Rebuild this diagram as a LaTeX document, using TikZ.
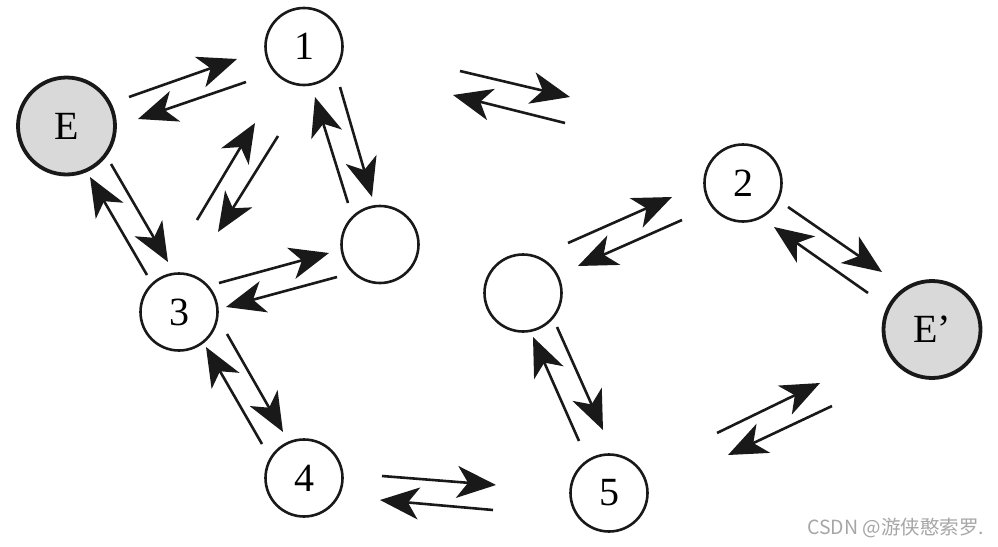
\documentclass[tikz,border=0pt]{standalone}
\usepackage{fontspec}
\setmainfont{Liberation Serif}
\newfontfamily\cjkfont{Noto Sans CJK SC}
\usetikzlibrary{arrows.meta}
\begin{document}
\begin{tikzpicture}[x=1pt,y=-1pt,
  st/.style={circle,draw=black!90,line width=2.6pt,minimum size=77pt,inner sep=0pt,
    font=\fontsize{40}{40}\selectfont},
  term/.style={st,line width=3.8pt,fill=black!15,minimum size=97pt},
  arr/.style={draw=black!90,line width=2.6pt,-{Stealth[length=39pt,width=32pt,inset=11pt]}},
  wm/.style={font=\cjkfont\fontsize{19.5}{20}\selectfont,text=black!35,inner sep=0pt}]
\useasboundingbox (0,0) rectangle (998,546);

% nodes
\node[term] (E)  at (66.5,126) {E};
\node[st]   (n1) at (304,46.5) {1};
\node[st]   (A)  at (380,244.5) {};
\node[st]   (n3) at (179,312) {3};
\node[st]   (n4) at (304,478) {4};
\node[st]   (n2) at (743,183) {2};
\node[term] (Ep) at (932,329.5) {E’};
\node[st]   (B)  at (523,293) {};
\node[st]   (n5) at (609,493) {5};

% arrow end points
\coordinate (p1s) at (129,97);  \coordinate (p1e) at (237,59);
\coordinate (p2s) at (246,82);  \coordinate (p2e) at (138,119);
\coordinate (p3s) at (111,164); \coordinate (p3e) at (168,262);
\coordinate (p4s) at (147,275); \coordinate (p4e) at (90,177);
\coordinate (p5s) at (197,220); \coordinate (p5e) at (255,123);
\coordinate (p6s) at (278,136); \coordinate (p6e) at (218,232);
\coordinate (p7s) at (340,87);  \coordinate (p7e) at (372,197);
\coordinate (p8s) at (348,203); \coordinate (p8e) at (315,97);
\coordinate (p9s) at (219,283); \coordinate (p9e) at (329,253);
\coordinate (p10s) at (337,277); \coordinate (p10e) at (226,307);
\coordinate (p11s) at (227,334); \coordinate (p11e) at (283,432);
\coordinate (p12s) at (262,444); \coordinate (p12e) at (206,347);
\coordinate (p13s) at (382,476); \coordinate (p13e) at (496,485);
\coordinate (p14s) at (493,510); \coordinate (p14e) at (380,500);
\coordinate (p15s) at (460,71);  \coordinate (p15e) at (570,97);
\coordinate (p16s) at (565,123); \coordinate (p16e) at (453,95);
\coordinate (p17s) at (568,243); \coordinate (p17e) at (672,197);
\coordinate (p18s) at (682,220); \coordinate (p18e) at (578,266);
\coordinate (p19s) at (788,207); \coordinate (p19e) at (882,272);
\coordinate (p20s) at (868,293); \coordinate (p20e) at (774,227);
\coordinate (p21s) at (557,327); \coordinate (p21e) at (603,430);
\coordinate (p22s) at (579,441); \coordinate (p22e) at (533,337);
\coordinate (p23s) at (717,433); \coordinate (p23e) at (820,383);
\coordinate (p24s) at (832,406); \coordinate (p24e) at (728,455);

\foreach \i in {1,...,24} {\draw[arr] (p\i s) -- (p\i e);}

\node[wm,anchor=base west] (wmark) at (807,534) {CSDN @游侠憨索罗.};
\end{tikzpicture}
\end{document}
